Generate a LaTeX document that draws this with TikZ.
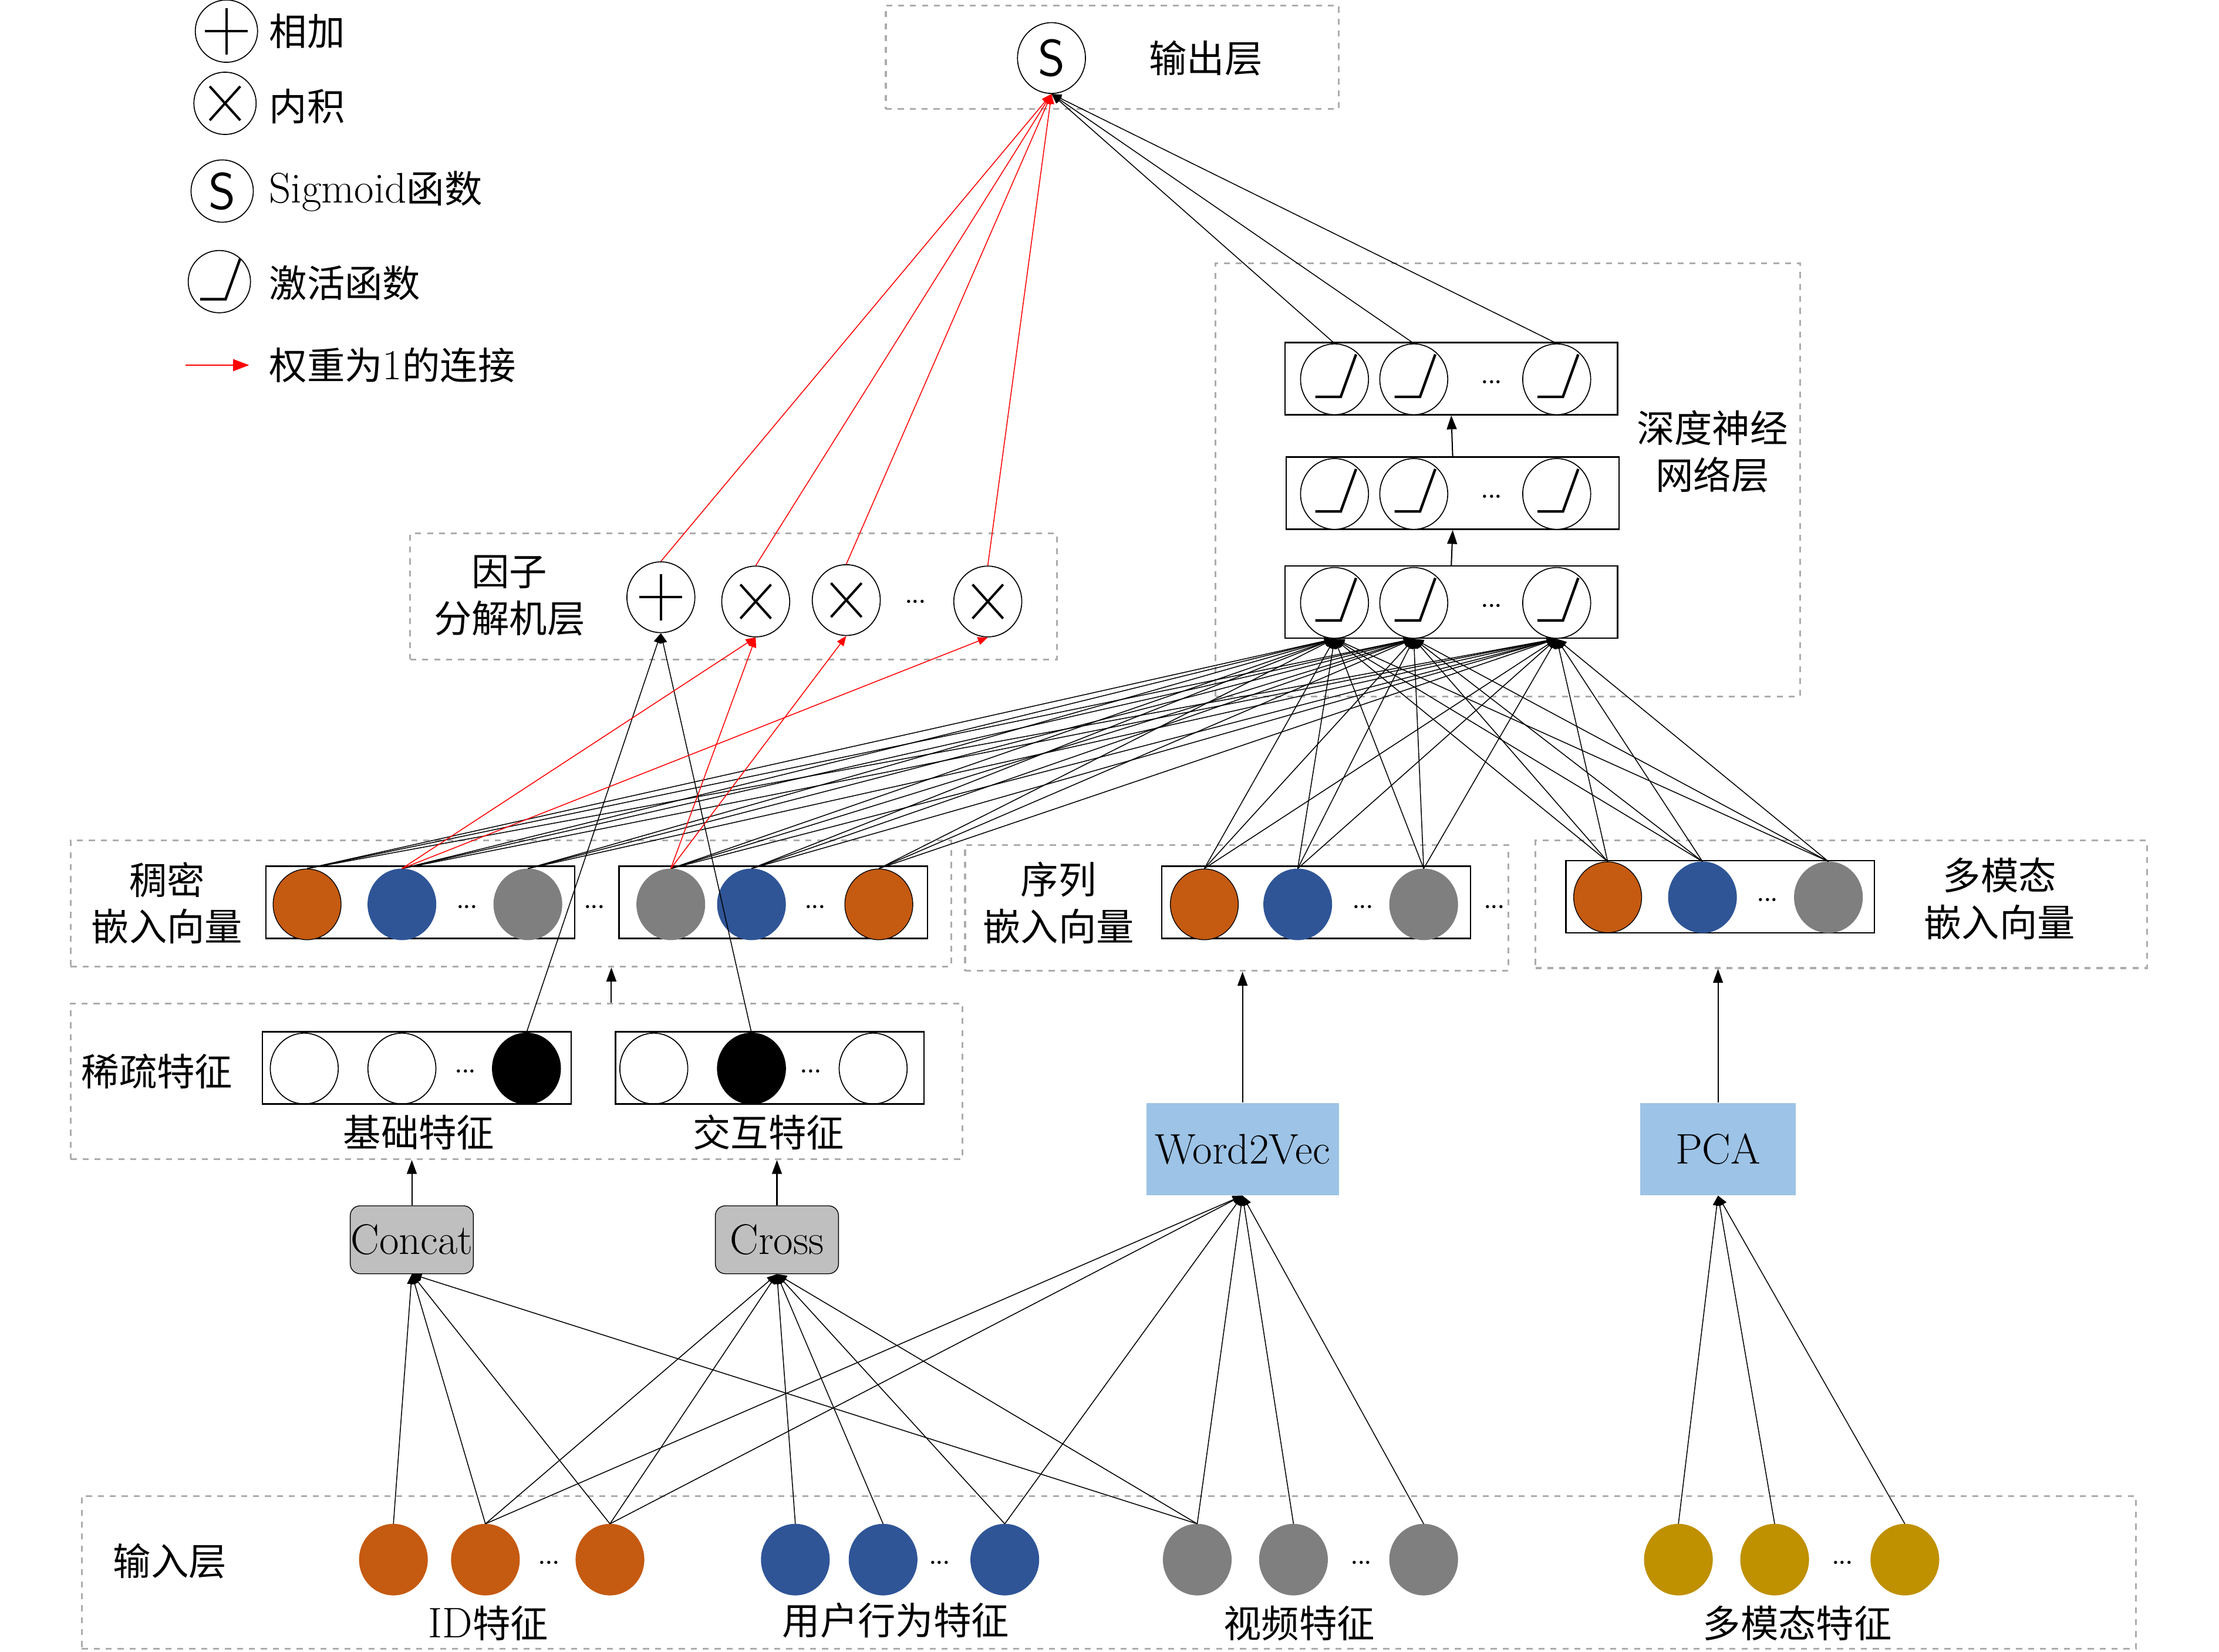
\documentclass[tikz,border=0pt]{standalone}
\usepackage{fontspec}
\usepackage{tikz}
\usetikzlibrary{shapes.geometric,arrows.meta,positioning,calc}
\newfontfamily\zhfont{Noto Sans CJK SC}
\newcommand{\zh}[1]{{\zhfont #1}}
\newcommand{\lbl}{\fontsize{19pt}{23.5pt}\selectfont}
\newcommand{\latin}{\fontsize{21.5pt}{23.5pt}\selectfont}
\newcommand{\la}[1]{{\latin #1}}
\definecolor{embOrange}{HTML}{C55A11}
\definecolor{embBlue}{HTML}{2F5597}
\definecolor{embGray}{HTML}{7F7F7F}
\definecolor{embGold}{HTML}{BF9000}
\definecolor{opGray}{HTML}{BFBFBF}
\definecolor{toolBlue}{HTML}{9DC3E6}

\begin{document}
\begin{tikzpicture}[
    x=0.025cm, y=-0.025cm,
    txt/.style={font=\lbl, align=center, inner sep=0pt},
    layerbox/.style={rectangle, draw=gray!65, dashed, line width=0.9pt, inner sep=0pt},
    vecbox/.style={rectangle, draw, line width=0.7pt, minimum width=5.45cm, minimum height=1.275cm, inner sep=0pt},
    unit/.style={ellipse, draw, line width=0.5pt, minimum width=1.2cm, minimum height=1.25cm, inner sep=0pt},
    emb/.style={ellipse, fill=#1, draw=#1, minimum width=1.2cm, minimum height=1.25cm, inner sep=0pt},
    relu/.style={unit, fill=white, path picture={
        \draw[line width=1.3pt] ($(path picture bounding box.center)+(-0.34cm,-0.31cm)$) -- ++(0.45cm,0) -- ++(0.27cm,0.75cm);}},
    plusop/.style={unit, fill=white, path picture={
        \draw[line width=1.2pt] ($(path picture bounding box.center)+(-0.38cm,0)$) -- ++(0.76cm,0);
        \draw[line width=1.2pt] ($(path picture bounding box.center)+(0,-0.41cm)$) -- ++(0,0.82cm);}},
    timesop/.style={unit, fill=white, path picture={
        \draw[line width=1.2pt] ($(path picture bounding box.center)+(-0.27cm,-0.3cm)$) -- ++(0.54cm,0.6cm);
        \draw[line width=1.2pt] ($(path picture bounding box.center)+(-0.27cm,0.3cm)$) -- ++(0.54cm,-0.6cm);}},
    sigop/.style={unit, fill=white, font=\fontsize{26pt}{26pt}\selectfont\sffamily},
    opbox/.style={rectangle, rounded corners=5pt, draw, fill=opGray, minimum width=2.175cm, minimum height=1.2cm, inner sep=0pt, font=\latin},
    toolbox/.style={rectangle, fill=toolBlue, minimum height=1.625cm, inner sep=0pt, font=\latin},
    dots/.style={font=\fontsize{11pt}{11pt}\selectfont\bfseries, inner sep=0pt},
    conn/.style={-{Triangle[length=5pt,width=4pt]}, line width=0.45pt},
    redconn/.style={conn, red},
    arrow/.style={-{Triangle[length=7pt,width=5pt]}, line width=0.6pt}
]
    \useasboundingbox (0,0) rectangle (1568,1167);

    % legend
    \node[plusop, minimum width=1.1cm, minimum height=1.1cm] (lgadd) at (160,22) {};
    \node[timesop, minimum width=1.1cm, minimum height=1.1cm] (lgmul) at (159,73) {};
    \node[sigop, minimum width=1.1cm, minimum height=1.1cm] (lgsig) at (157,135) {S};
    \node[relu, minimum width=1.1cm, minimum height=1.1cm] (lgrelu) at (155,199) {};
    \node[txt, anchor=west] (lgaddt) at (190,22) {\zh{相加}};
    \node[txt, anchor=west] (lgmult) at (190,75) {\zh{内积}};
    \node[txt, anchor=west] (lgsigt) at (190,135) {\la{Sigmoid}\zh{函数}};
    \node[txt, anchor=west] (lgrelut) at (190,200) {\zh{激活函数}};
    \node[txt, anchor=west] (lgredt) at (190,258) {\zh{权重为}\la{1}\zh{的连接}};
    \coordinate (lgs) at (131,258);
    \coordinate (lge) at (176,258);
    \draw[redconn, -{Triangle[length=8pt,width=6pt]}] (lgs) -- (lge);

    % dashed layer boxes
    \node[layerbox, minimum width=8cm, minimum height=1.825cm] (outbox) at (786,40.5) {};
    \node[layerbox, minimum width=11.425cm, minimum height=2.225cm] (fmbox) at (518.5,421.5) {};
    \node[layerbox, minimum width=10.325cm, minimum height=7.65cm] (dnnbox) at (1065.5,339) {};
    \node[layerbox, minimum width=15.55cm, minimum height=2.225cm] (densebox) at (361,638.5) {};
    \node[layerbox, minimum width=9.6cm, minimum height=2.225cm] (seqbox) at (874,641.5) {};
    \node[layerbox, minimum width=10.8cm, minimum height=2.25cm] (mmbox) at (1301,639) {};
    \node[layerbox, minimum width=15.75cm, minimum height=2.75cm] (sparsebox) at (365,764) {};
    \node[layerbox, minimum width=36.275cm, minimum height=2.7cm] (inbox) at (783.5,1111) {};

    % vector frames
    \node[vecbox, minimum width=5.875cm] (hb3) at (1025.5,267.5) {};
    \node[vecbox, minimum width=5.875cm] (hb2) at (1026.5,348.5) {};
    \node[vecbox, minimum width=5.875cm] (hb1) at (1025.5,425.5) {};
    \node[vecbox] (dv1) at (297,637.5) {};
    \node[vecbox] (dv2) at (546.5,637.5) {};
    \node[vecbox] (sv) at (930,637.5) {};
    \node[vecbox] (mv) at (1215.5,633.5) {};
    \node[vecbox] (spv1) at (294.5,754.5) {};
    \node[vecbox] (spv2) at (544,754.5) {};

    % output layer
    \node[sigop] (out) at (743,41) {S};
    \node[txt] (outt) at (852,41) {\zh{输出层}};

    % factorization machine layer
    \node[plusop] (fmadd) at (467,422) {};
    \node[timesop] (fmx1) at (534,425) {};
    \node[timesop] (fmx2) at (598,424) {};
    \node[dots] at (647,425) {...};
    \node[timesop] (fmx3) at (698,425) {};
    \node[txt] (fmt) at (360,421) {\zh{因子}\\\zh{分解机层}};

    % deep network
    \foreach \l/\y in {1/426,2/349,3/268} {
        \node[relu] (h\l a) at (943,\y) {};
        \node[relu] (h\l b) at (999,\y) {};
        \node[dots] at (1054,\y+2) {...};
        \node[relu] (h\l c) at (1100,\y) {};
    }
    \node[txt] (dnnt) at (1210,319) {\zh{深度神经}\\\zh{网络层}};
    \draw[arrow] (hb1.north) -- (hb2.south);
    \draw[arrow] (hb2.north) -- (hb3.south);

    % embeddings
    \node[emb=embOrange, draw=black] (de1) at (217,639) {};
    \node[emb=embBlue] (de2) at (284,639) {};
    \node[dots] at (330,641) {...};
    \node[emb=embGray] (de3) at (373,639) {};
    \node[dots] at (420,641) {...};
    \node[emb=embGray] (de4) at (474,639) {};
    \node[emb=embBlue] (de5) at (531,639) {};
    \node[dots] at (576,641) {...};
    \node[emb=embOrange, draw=black] (de6) at (621,639) {};
    \node[txt] (denset) at (118,638) {\zh{稠密}\\\zh{嵌入向量}};

    \node[emb=embOrange, draw=black] (se1) at (851,639) {};
    \node[emb=embBlue] (se2) at (917,639) {};
    \node[dots] at (963,641) {...};
    \node[emb=embGray] (se3) at (1006,639) {};
    \node[dots] at (1056,641) {...};
    \node[txt] (seqt) at (748,638) {\zh{序列}\\\zh{嵌入向量}};

    \node[emb=embOrange, draw=black] (me1) at (1136,634) {};
    \node[emb=embBlue] (me2) at (1203,634) {};
    \node[dots] at (1249,636) {...};
    \node[emb=embGray] (me3) at (1292,634) {};
    \node[txt] (mmt) at (1413,635) {\zh{多模态}\\\zh{嵌入向量}};

    % sparse features
    \node[unit] (sp1) at (215,755) {};
    \node[unit] (sp2) at (284,755) {};
    \node[dots] at (329,757) {...};
    \node[unit, fill=black] (sp3) at (372,755) {};
    \node[unit] (sq1) at (462,755) {};
    \node[unit, fill=black] (sq2) at (531,755) {};
    \node[dots] at (573,757) {...};
    \node[unit] (sq3) at (617,755) {};
    \node[txt] (spt) at (111,757) {\zh{稀疏特征}};
    \node[txt] (basict) at (296,800) {\zh{基础特征}};
    \node[txt] (crosst) at (543,800) {\zh{交互特征}};

    % feature processing
    \node[opbox] (concat) at (291,876) {Concat};
    \node[opbox] (cross) at (549,876) {Cross};
    \node[toolbox, minimum width=3.4cm] (wordvec) at (878,812) {Word2Vec};
    \node[toolbox, minimum width=2.75cm] (pca) at (1214,812) {PCA};

    % input layer
    \node[emb=embOrange] (id1) at (278,1102) {};
    \node[emb=embOrange] (id2) at (343,1102) {};
    \node[dots] at (388,1104) {...};
    \node[emb=embOrange] (id3) at (431,1102) {};
    \node[emb=embBlue] (ub1) at (562,1102) {};
    \node[emb=embBlue] (ub2) at (624,1102) {};
    \node[dots] at (664,1104) {...};
    \node[emb=embBlue] (ub3) at (710,1102) {};
    \node[emb=embGray] (vf1) at (846,1102) {};
    \node[emb=embGray] (vf2) at (914,1102) {};
    \node[dots] at (962,1104) {...};
    \node[emb=embGray] (vf3) at (1006,1102) {};
    \node[emb=embGold] (mm1) at (1186,1102) {};
    \node[emb=embGold] (mm2) at (1254,1102) {};
    \node[dots] at (1302,1104) {...};
    \node[emb=embGold] (mm3) at (1346,1102) {};
    \node[txt] (int) at (120,1103) {\zh{输入层}};
    \node[txt] (idt) at (345,1147) {\la{ID}\zh{特征}};
    \node[txt] (ubt) at (633,1145) {\zh{用户行为特征}};
    \node[txt] (vft) at (918,1147) {\zh{视频特征}};
    \node[txt] (mmft) at (1270,1147) {\zh{多模态特征}};

    % input -> processing
    \foreach \s in {id1,id2,id3,vf1}
        \draw[conn] (\s.north) -- (concat.south);
    \foreach \s in {id2,id3,ub1,ub2,ub3,vf1}
        \draw[conn] (\s.north) -- (cross.south);
    \foreach \s in {id2,id3,ub3,vf1,vf2,vf3}
        \draw[conn] (\s.north) -- (wordvec.south);
    \foreach \s in {mm1,mm2,mm3}
        \draw[conn] (\s.north) -- (pca.south);

    % processing -> layers
    \coordinate (gapx) at (432,700);
    \draw[arrow] (concat.north) -- (concat.north |- sparsebox.south);
    \draw[arrow] (cross.north) -- (cross.north |- sparsebox.south);
    \draw[arrow] (sparsebox.north -| gapx) -- (densebox.south -| gapx);
    \draw[arrow] (wordvec.north) -- (wordvec.north |- seqbox.south);
    \draw[arrow] (pca.north) -- (pca.north |- mmbox.south);

    % embeddings -> deep network
    \foreach \s in {de1,de2,de3,de4,de5,de6,se1,se2,se3,me1,me2,me3}
        \foreach \t in {h1a,h1b,h1c}
            \draw[conn] (\s.north) -- (\t.south);

    % sparse -> FM add
    \draw[conn] (sp3.north) -- (fmadd.south);
    \draw[conn] (sq2.north) -- (fmadd.south);

    % embeddings -> FM products
    \draw[redconn] (de2.north) -- (fmx1.south);
    \draw[redconn] (de2.north) -- (fmx3.south);
    \draw[redconn] (de4.north) -- (fmx1.south);
    \draw[redconn] (de4.north) -- (fmx2.south);

    % to output
    \foreach \s in {fmadd,fmx1,fmx2,fmx3}
        \draw[redconn] (\s.north) -- (out.south);
    \foreach \s in {h3a,h3b,h3c}
        \draw[conn] (\s.north) -- (out.south);
\end{tikzpicture}
\end{document}
